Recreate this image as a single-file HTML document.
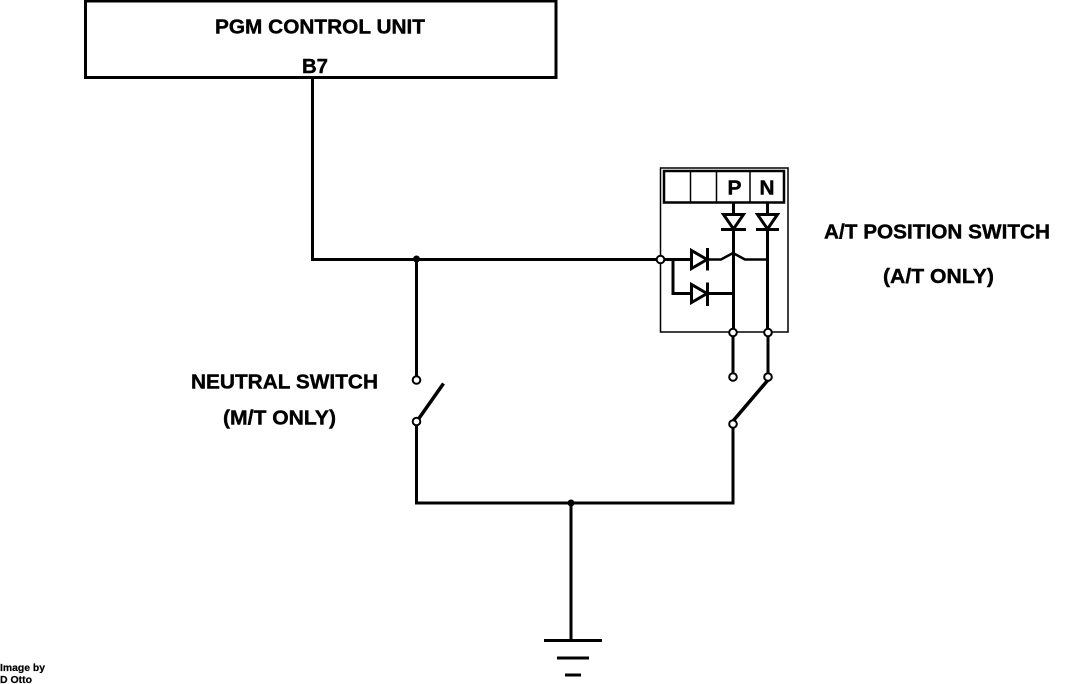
<!DOCTYPE html>
<html>
<head>
<meta charset="utf-8">
<style>
html,body{margin:0;padding:0;background:#fff;width:1072px;height:684px;overflow:hidden}
svg{display:block}
text{font-family:"Liberation Sans",sans-serif;font-weight:bold;fill:#000;stroke:#000;stroke-width:.4px}
text.small{stroke-width:.2px}
</style>
</head>
<body>
<svg width="1072" height="684" viewBox="0 0 1072 684" xmlns="http://www.w3.org/2000/svg">
<rect x="0" y="0" width="1072" height="684" fill="#fff"/>
<!-- control unit -->
<rect x="85.5" y="1" width="470.5" height="76.5" fill="none" stroke="#000" stroke-width="3"/>
<text x="215" y="33.5" font-size="20" textLength="210" lengthAdjust="spacingAndGlyphs">PGM CONTROL UNIT</text>
<text x="302" y="73" font-size="20" textLength="26" lengthAdjust="spacingAndGlyphs">B7</text>
<!-- main wires -->
<g fill="none" stroke="#000" stroke-width="3">
<path d="M312.5 77V259.5H656"/>
<path d="M416.5 259V376"/>
<path d="M416.5 426V503H733V428"/>
<path d="M571 503V640"/>
<path d="M733 336V373"/>
<path d="M768 336V373"/>
<path d="M733 421L768 380" stroke-width="3.5"/>
<path d="M418.5 419L443.5 383.5" stroke-width="3.5"/>
<!-- ground -->
<path d="M544 640.5H602"/>
<path d="M557 658H589"/>
<path d="M565 675H581"/>
</g>
<!-- A/T switch box -->
<rect x="660.5" y="168" width="127.5" height="164" fill="none" stroke="#000" stroke-width="1.5"/>
<rect x="664" y="171" width="120" height="31.5" fill="#fff" stroke="#000" stroke-width="2.5"/>
<path d="M690.5 171V202M716.5 171V202M750 171V202" fill="none" stroke="#000" stroke-width="1.5"/>
<text x="727.5" y="194.5" font-size="20" textLength="14" lengthAdjust="spacingAndGlyphs">P</text>
<text x="759.5" y="194.5" font-size="20" textLength="15" lengthAdjust="spacingAndGlyphs">N</text>
<!-- internal wires -->
<g fill="none" stroke="#000" stroke-width="3">
<path d="M733.5 202V329"/>
<path d="M767.5 202V329"/>
<path d="M664 259.5H691"/>
<path d="M707 259.5H721L733 253L745 259.5H767.5" stroke-width="2.5"/>
<path d="M673 259.5V293.5H691"/>
<path d="M707 293.5H733.5"/>
<!-- vertical diodes -->
<path d="M723.5 214.5H743.5L733.5 229Z" fill="#fff"/>
<path d="M721 229.5H746"/>
<path d="M757.5 214.5H777.5L767.5 229Z" fill="#fff"/>
<path d="M756 229.5H779"/>
<!-- horizontal diodes -->
<path d="M691.5 250.5V268.5L707 259.5Z" fill="#fff"/>
<path d="M707.5 248V270.5"/>
<path d="M691.5 284.5V302.5L707 293.5Z" fill="#fff"/>
<path d="M707.5 282.5V306"/>
</g>
<!-- terminals -->
<g fill="#fff" stroke="#000" stroke-width="2">
<circle cx="660.5" cy="259.5" r="3.8"/>
<circle cx="733" cy="332.5" r="3.8"/>
<circle cx="768" cy="332.5" r="3.8"/>
<circle cx="733" cy="377" r="3.8"/>
<circle cx="768" cy="377" r="3.8"/>
<circle cx="733" cy="424" r="3.8"/>
<circle cx="416.5" cy="380" r="3.8"/>
<circle cx="416.5" cy="421.5" r="3.8"/>
</g>
<circle cx="416.5" cy="259" r="3.5" fill="#000"/>
<circle cx="571" cy="503" r="3.5" fill="#000"/>
<!-- labels -->
<text x="191" y="388.5" font-size="20" textLength="187" lengthAdjust="spacingAndGlyphs">NEUTRAL SWITCH</text>
<text x="223" y="424.5" font-size="20" textLength="113" lengthAdjust="spacingAndGlyphs">(M/T ONLY)</text>
<text x="824" y="238.5" font-size="20" textLength="226" lengthAdjust="spacingAndGlyphs">A/T POSITION SWITCH</text>
<text x="883" y="283" font-size="20" textLength="111" lengthAdjust="spacingAndGlyphs">(A/T ONLY)</text>
<text class="small" x="0" y="671" font-size="10" textLength="45" lengthAdjust="spacingAndGlyphs">Image by</text>
<text class="small" x="0" y="683" font-size="10" textLength="32" lengthAdjust="spacingAndGlyphs">D Otto</text>
</svg>
</body>
</html>
